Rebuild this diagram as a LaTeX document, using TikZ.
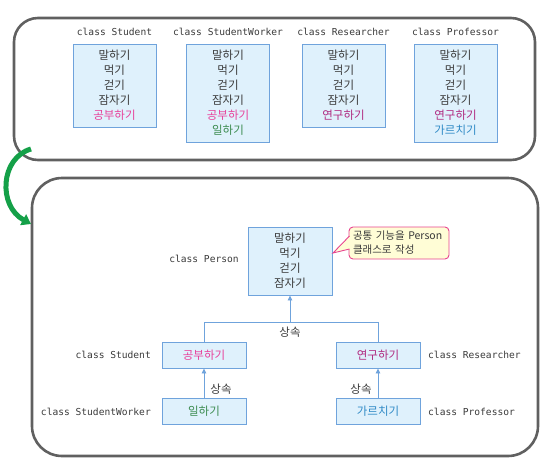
\documentclass[tikz,border=0pt]{standalone}
\usepackage{fontspec}
\setmainfont{Noto Sans CJK KR}
\newfontfamily\monof{DejaVu Sans Mono}
\usetikzlibrary{arrows.meta}
\definecolor{frame}{HTML}{606060}
\definecolor{boxfill}{HTML}{DFF1FC}
\definecolor{boxedge}{HTML}{6FA3DC}
\definecolor{txt}{HTML}{3A3A3A}
\definecolor{pinkc}{HTML}{E8409A}
\definecolor{magc}{HTML}{B02A80}
\definecolor{greenc}{HTML}{3C8C50}
\definecolor{bluec}{HTML}{2F8AC6}
\definecolor{arrowgreen}{HTML}{14A048}
\definecolor{notefill}{HTML}{FFFDD6}
\definecolor{noteedge}{HTML}{E8448E}
\tikzset{
  x=1pt, y=-1pt,
  panel/.style={draw=frame, line width=2.6pt},
  clsbox/.style={draw=boxedge, fill=boxfill, line width=0.9pt, align=center,
    font=\fontsize{11.5}{15}\selectfont, text=txt, inner sep=0pt, minimum width=83pt},
  smallbox/.style={draw=boxedge, fill=boxfill, line width=0.9pt, align=center,
    font=\fontsize{11.5}{13}\selectfont, inner sep=0pt, minimum width=84pt, minimum height=26pt},
  title/.style={font=\monof\fontsize{9.6}{11}\selectfont, text=txt, inner sep=0pt},
  lbl/.style={font=\fontsize{11.5}{13}\selectfont, text=txt, inner sep=0pt},
  inh/.style={draw=boxedge, line width=0.9pt},
  inharrow/.style={draw=boxedge, line width=0.9pt, -{Triangle[length=5pt,width=4.5pt]}},
}
\begin{document}
\begin{tikzpicture}
\useasboundingbox (0,0) rectangle (558,467);
% panels
\draw[panel, rounded corners=24pt] (14,18) rectangle (535,160);
\draw[panel, rounded corners=30pt] (32,178) rectangle (538,456);

% top row
\node[title] (t1) at (114.5,32) {class Student};
\node[title] (t2) at (228,32) {class StudentWorker};
\node[title] (t3) at (343.5,32) {class Researcher};
\node[title] (t4) at (455.5,32) {class Professor};

\node[clsbox, minimum height=83pt] (b1) at (114.5,85.5)
  {말하기\\먹기\\걷기\\잠자기\\\textcolor{pinkc}{공부하기}};
\node[clsbox, minimum height=98pt] (b2) at (228,93)
  {말하기\\먹기\\걷기\\잠자기\\\textcolor{pinkc}{공부하기}\\\textcolor{greenc}{일하기}};
\node[clsbox, minimum height=83pt] (b3) at (343.5,85.5)
  {말하기\\먹기\\걷기\\잠자기\\\textcolor{magc}{연구하기}};
\node[clsbox, minimum height=98pt] (b4) at (455.5,93)
  {말하기\\먹기\\걷기\\잠자기\\\textcolor{magc}{연구하기}\\\textcolor{bluec}{가르치기}};

% green transition arrow
\coordinate (gs) at (31,149);
\coordinate (ge) at (31,224);
\draw[arrowgreen, line width=5pt, -{Triangle[length=9pt,width=12pt]}]
  (gs) .. controls (0,158) and (-2,206) .. (ge);

% Person
\node[clsbox, minimum width=84pt, minimum height=68pt] (person) at (290,261)
  {말하기\\먹기\\걷기\\잠자기};
\node[title] (tp) at (204,259) {class Person};

% callout
\node[draw=noteedge, fill=notefill, line width=0.9pt, rounded corners=4pt,
  minimum width=100pt, minimum height=32pt, align=left, inner sep=0pt, text width=92pt,
  font=\fontsize{10.5}{14}\selectfont, text=txt] (note) at (399,243)
  {공통 기능을 Person\\클래스로 작성};
\coordinate (tipn) at (333,253);
\fill[notefill] (350,236) -- (tipn) -- (350,249) -- cycle;
\draw[noteedge, line width=0.9pt, line join=miter] (349.5,236) -- (tipn) -- (349.5,249);

% second row
\node[smallbox, text=pinkc] (stu) at (204,355) {공부하기};
\node[smallbox, text=magc] (res) at (378,355) {연구하기};
\node[smallbox, text=greenc] (sw) at (204,411.5) {일하기};
\node[smallbox, text=bluec] (prof) at (378,411.5) {가르치기};

\node[title, anchor=east] (tstu) at (151,355) {class Student};
\node[title, anchor=east] (tsw) at (151,412) {class StudentWorker};
\node[title, anchor=west] (tres) at (428,355) {class Researcher};
\node[title, anchor=west] (tprof) at (428,412) {class Professor};

% inheritance
\coordinate (j) at (290,322);
\draw[inh] (stu.north) |- (j);
\draw[inh] (res.north) |- (j);
\draw[inharrow] (j) -- (person.south);
\node[lbl] (l1) at (290,332) {상속};
\draw[inharrow] (sw.north) -- (stu.south);
\draw[inharrow] (prof.north) -- (res.south);
\node[lbl] (l2) at (221,389) {상속};
\node[lbl] (l3) at (361,389) {상속};
\end{tikzpicture}
\end{document}
